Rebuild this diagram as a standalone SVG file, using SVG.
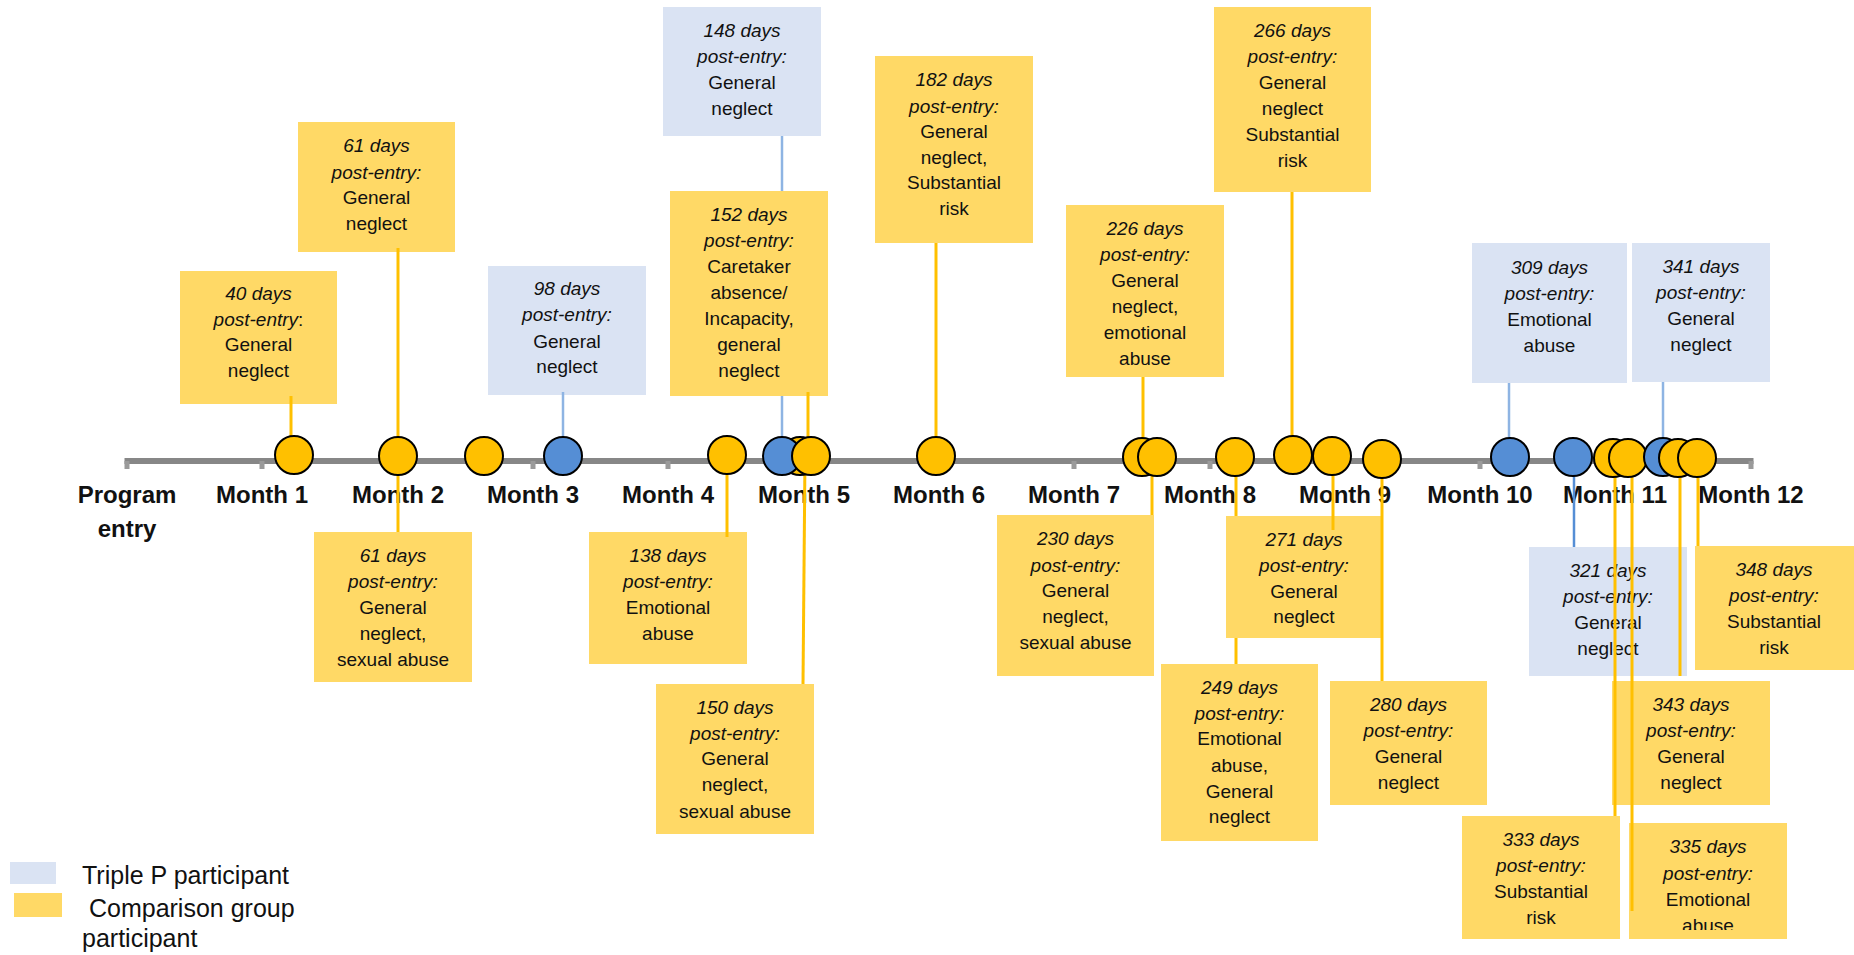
<svg xmlns="http://www.w3.org/2000/svg" width="1854" height="955" viewBox="0 0 1854 955">
<style>
.by{fill:#FFD966}
.bb{fill:#DAE3F3}
.t{font-family:"Liberation Sans",Arial,sans-serif;font-size:19px;text-anchor:middle;fill:#111}
.i{font-style:italic}
.n{font-style:normal}
.m{font-family:"Liberation Sans",Arial,sans-serif;font-weight:bold;font-size:24px;text-anchor:middle;fill:#111}
.lg{font-family:"Liberation Sans",Arial,sans-serif;font-size:25px;fill:#111}
.cy{fill:#FFC000;stroke:#000;stroke-width:2}
.cb{fill:#558ED5;stroke:#000;stroke-width:2}
.ly{stroke:#FFC000;stroke-width:3;fill:none}
.lb{stroke:#8EB4E3;stroke-width:2.5;fill:none}
.lbd{stroke:#558ED5;stroke-width:2.5;fill:none}
.tk{fill:#9a9a9a}
</style>
<defs>
<clipPath id="clip335"><rect x="1629" y="823" width="158" height="107"/></clipPath>
</defs>

<g id="axis">
<rect x="124.5" y="458" width="1629" height="6" fill="#878787"/>
<rect class="tk" x="124.5" y="461" width="5" height="8"/>
<rect class="tk" x="259.5" y="461" width="5" height="8"/>
<rect class="tk" x="395.5" y="461" width="5" height="8"/>
<rect class="tk" x="530.5" y="461" width="5" height="8"/>
<rect class="tk" x="665.5" y="461" width="5" height="8"/>
<rect class="tk" x="801.5" y="461" width="5" height="8"/>
<rect class="tk" x="936.5" y="461" width="5" height="8"/>
<rect class="tk" x="1071.5" y="461" width="5" height="8"/>
<rect class="tk" x="1207.5" y="461" width="5" height="8"/>
<rect class="tk" x="1342.5" y="461" width="5" height="8"/>
<rect class="tk" x="1477.5" y="461" width="5" height="8"/>
<rect class="tk" x="1612.5" y="461" width="5" height="8"/>
<rect class="tk" x="1748.5" y="461" width="5" height="8"/>
</g>

<g id="month-labels">
<text class="m" x="127" y="503">Program</text>
<text class="m" x="127" y="537">entry</text>
<text class="m" x="262" y="503">Month 1</text>
<text class="m" x="398" y="503">Month 2</text>
<text class="m" x="533" y="503">Month 3</text>
<text class="m" x="668" y="503">Month 4</text>
<text class="m" x="804" y="503">Month 5</text>
<text class="m" x="939" y="503">Month 6</text>
<text class="m" x="1074" y="503">Month 7</text>
<text class="m" x="1210" y="503">Month 8</text>
<text class="m" x="1345" y="503">Month 9</text>
<text class="m" x="1480" y="503">Month 10</text>
<text class="m" x="1615" y="503">Month 11</text>
<text class="m" x="1751" y="503">Month 12</text>
</g>

<g id="n40"><rect class="by" x="180" y="271" width="157" height="133"/>
<text class="t"><tspan class="i" x="258.5" y="300">40 days</tspan><tspan x="258.5" y="326"><tspan class="i">post-entry</tspan>:</tspan><tspan x="258.5" y="351">General</tspan><tspan x="258.5" y="377">neglect</tspan></text></g>

<g id="n61a"><rect class="by" x="298" y="122" width="157" height="130"/>
<text class="t"><tspan class="i" x="376.5" y="152">61 days</tspan><tspan class="i" x="376.5" y="179">post-entry:</tspan><tspan x="376.5" y="204">General</tspan><tspan x="376.5" y="230">neglect</tspan></text></g>

<g id="n61b"><rect class="by" x="314" y="532" width="158" height="150"/>
<text class="t"><tspan class="i" x="393" y="562">61 days</tspan><tspan class="i" x="393" y="588">post-entry:</tspan><tspan x="393" y="614">General</tspan><tspan x="393" y="640">neglect,</tspan><tspan x="393" y="666">sexual abuse</tspan></text></g>

<g id="n98"><rect class="bb" x="488" y="266" width="158" height="129"/>
<text class="t"><tspan class="i" x="567" y="295">98 days</tspan><tspan class="i" x="567" y="321">post-entry:</tspan><tspan x="567" y="348">General</tspan><tspan x="567" y="373">neglect</tspan></text></g>

<g id="n138"><rect class="by" x="589" y="532" width="158" height="132"/>
<text class="t"><tspan class="i" x="668" y="562">138 days</tspan><tspan class="i" x="668" y="588">post-entry:</tspan><tspan x="668" y="614">Emotional</tspan><tspan x="668" y="640">abuse</tspan></text></g>

<g id="n148"><rect class="bb" x="663" y="7" width="158" height="129"/>
<text class="t"><tspan class="i" x="742" y="37">148 days</tspan><tspan class="i" x="742" y="63">post-entry:</tspan><tspan x="742" y="89">General</tspan><tspan x="742" y="115">neglect</tspan></text></g>

<g id="n152"><rect class="by" x="670" y="191" width="158" height="205"/>
<text class="t"><tspan class="i" x="749" y="221">152 days</tspan><tspan class="i" x="749" y="247">post-entry:</tspan><tspan x="749" y="273">Caretaker</tspan><tspan x="749" y="299">absence/</tspan><tspan x="749" y="325">Incapacity,</tspan><tspan x="749" y="351">general</tspan><tspan x="749" y="377">neglect</tspan></text></g>

<g id="n150"><rect class="by" x="656" y="684" width="158" height="150"/>
<text class="t"><tspan class="i" x="735" y="714">150 days</tspan><tspan class="i" x="735" y="740">post-entry:</tspan><tspan x="735" y="765">General</tspan><tspan x="735" y="791">neglect,</tspan><tspan x="735" y="818">sexual abuse</tspan></text></g>

<g id="n182"><rect class="by" x="875" y="56" width="158" height="187"/>
<text class="t"><tspan class="i" x="954" y="86">182 days</tspan><tspan class="i" x="954" y="113">post-entry:</tspan><tspan x="954" y="138">General</tspan><tspan x="954" y="164">neglect,</tspan><tspan x="954" y="189">Substantial</tspan><tspan x="954" y="215">risk</tspan></text></g>

<g id="n226"><rect class="by" x="1066" y="205" width="158" height="172"/>
<text class="t"><tspan class="i" x="1145" y="235">226 days</tspan><tspan class="i" x="1145" y="261">post-entry:</tspan><tspan x="1145" y="287">General</tspan><tspan x="1145" y="313">neglect,</tspan><tspan x="1145" y="339">emotional</tspan><tspan x="1145" y="365">abuse</tspan></text></g>

<g id="n230"><rect class="by" x="997" y="515" width="157" height="161"/>
<text class="t"><tspan class="i" x="1075.5" y="545">230 days</tspan><tspan class="i" x="1075.5" y="572">post-entry:</tspan><tspan x="1075.5" y="597">General</tspan><tspan x="1075.5" y="623">neglect,</tspan><tspan x="1075.5" y="649">sexual abuse</tspan></text></g>

<g id="n266"><rect class="by" x="1214" y="7" width="157" height="185"/>
<text class="t"><tspan class="i" x="1292.5" y="37">266 days</tspan><tspan class="i" x="1292.5" y="63">post-entry:</tspan><tspan x="1292.5" y="89">General</tspan><tspan x="1292.5" y="115">neglect</tspan><tspan x="1292.5" y="141">Substantial</tspan><tspan x="1292.5" y="167">risk</tspan></text></g>

<g id="n249"><rect class="by" x="1161" y="664" width="157" height="177"/>
<text class="t"><tspan class="i" x="1239.5" y="694">249 days</tspan><tspan class="i" x="1239.5" y="720">post-entry:</tspan><tspan x="1239.5" y="745">Emotional</tspan><tspan x="1239.5" y="772">abuse,</tspan><tspan x="1239.5" y="798">General</tspan><tspan x="1239.5" y="823">neglect</tspan></text></g>

<g id="n271"><rect class="by" x="1226" y="516" width="156" height="122"/>
<text class="t"><tspan class="i" x="1304" y="546">271 days</tspan><tspan class="i" x="1304" y="572">post-entry:</tspan><tspan x="1304" y="598">General</tspan><tspan x="1304" y="623">neglect</tspan></text></g>

<g id="n280"><rect class="by" x="1330" y="681" width="157" height="124"/>
<text class="t"><tspan class="i" x="1408.5" y="711">280 days</tspan><tspan class="i" x="1408.5" y="737">post-entry:</tspan><tspan x="1408.5" y="763">General</tspan><tspan x="1408.5" y="789">neglect</tspan></text></g>

<g id="n309"><rect class="bb" x="1472" y="243" width="155" height="140"/>
<text class="t"><tspan class="i" x="1549.5" y="274">309 days</tspan><tspan class="i" x="1549.5" y="300">post-entry:</tspan><tspan x="1549.5" y="326">Emotional</tspan><tspan x="1549.5" y="352">abuse</tspan></text></g>

<g id="n341"><rect class="bb" x="1632" y="243" width="138" height="139"/>
<text class="t"><tspan class="i" x="1701" y="273">341 days</tspan><tspan class="i" x="1701" y="299">post-entry:</tspan><tspan x="1701" y="325">General</tspan><tspan x="1701" y="351">neglect</tspan></text></g>

<g id="n321"><rect class="bb" x="1529" y="547" width="158" height="129"/>
<text class="t"><tspan class="i" x="1608" y="577">321 days</tspan><tspan class="i" x="1608" y="603">post-entry:</tspan><tspan x="1608" y="629">General</tspan><tspan x="1608" y="655">neglect</tspan></text></g>

<g id="n348"><rect class="by" x="1695" y="546" width="159" height="124"/>
<text class="t"><tspan class="i" x="1774" y="576">348 days</tspan><tspan class="i" x="1774" y="602">post-entry:</tspan><tspan x="1774" y="628">Substantial</tspan><tspan x="1774" y="654">risk</tspan></text></g>

<g id="n343"><rect class="by" x="1612" y="681" width="158" height="124"/>
<text class="t"><tspan class="i" x="1691" y="711">343 days</tspan><tspan class="i" x="1691" y="737">post-entry:</tspan><tspan x="1691" y="763">General</tspan><tspan x="1691" y="789">neglect</tspan></text></g>

<g id="n333"><rect class="by" x="1462" y="816" width="158" height="123"/>
<text class="t"><tspan class="i" x="1541" y="846">333 days</tspan><tspan class="i" x="1541" y="872">post-entry:</tspan><tspan x="1541" y="898">Substantial</tspan><tspan x="1541" y="924">risk</tspan></text></g>

<g id="n335"><rect class="by" x="1629" y="823" width="158" height="116"/>
<text class="t" clip-path="url(#clip335)"><tspan class="i" x="1708" y="853">335 days</tspan><tspan class="i" x="1708" y="880">post-entry:</tspan><tspan x="1708" y="906">Emotional</tspan><tspan x="1708" y="932">abuse</tspan></text></g>

<g id="connectors">
<line class="ly" x1="291" y1="396" x2="291" y2="456"/>
<line class="ly" x1="398" y1="248" x2="398" y2="456"/>
<line class="ly" x1="398" y1="456" x2="398" y2="532"/>
<line class="lb" x1="563" y1="392" x2="563" y2="456"/>
<line class="ly" x1="727" y1="456" x2="727" y2="537"/>
<line class="lb" x1="782" y1="136" x2="782" y2="191"/>
<line class="lb" x1="782" y1="396" x2="782" y2="456"/>
<line class="ly" x1="808" y1="392" x2="808" y2="456"/>
<line class="ly" x1="805" y1="456" x2="803" y2="684"/>
<line class="ly" x1="936" y1="243" x2="936" y2="456"/>
<line class="ly" x1="1143" y1="377" x2="1143" y2="456"/>
<line class="ly" x1="1152" y1="456" x2="1152" y2="515"/>
<line class="ly" x1="1292" y1="192" x2="1292" y2="456"/>
<line class="ly" x1="1236" y1="456" x2="1236" y2="516"/>
<line class="ly" x1="1236" y1="638" x2="1236" y2="664"/>
<line class="ly" x1="1333" y1="456" x2="1333" y2="530"/>
<line class="ly" x1="1382" y1="456" x2="1382" y2="681"/>
<line class="lb" x1="1509" y1="383" x2="1509" y2="456"/>
<line class="lb" x1="1663" y1="382" x2="1663" y2="456"/>
<line class="lbd" x1="1574" y1="456" x2="1574" y2="547"/>
<line class="ly" x1="1615" y1="456" x2="1615" y2="816"/>
<line class="ly" x1="1632" y1="456" x2="1632" y2="911"/>
<line class="ly" x1="1680" y1="456" x2="1680" y2="676"/>
<line class="ly" x1="1698" y1="456" x2="1698" y2="546"/>
</g>

<g id="events">
<circle class="cy" cx="294" cy="455" r="19"/>
<circle class="cy" cx="398" cy="456" r="19"/>
<circle class="cy" cx="484" cy="456" r="19"/>
<circle class="cb" cx="563" cy="456" r="19"/>
<circle class="cy" cx="727" cy="455" r="19"/>
<circle class="cy" cx="800" cy="456" r="19"/>
<circle class="cb" cx="782" cy="456" r="19"/>
<circle class="cy" cx="811" cy="456" r="19"/>
<circle class="cy" cx="936" cy="456" r="19"/>
<circle class="cy" cx="1142" cy="457" r="19"/>
<circle class="cy" cx="1157" cy="457" r="19"/>
<circle class="cy" cx="1235" cy="457" r="19"/>
<circle class="cy" cx="1293" cy="455" r="19"/>
<circle class="cy" cx="1332" cy="456" r="19"/>
<circle class="cy" cx="1382" cy="459" r="19"/>
<circle class="cb" cx="1510" cy="457" r="19"/>
<circle class="cb" cx="1573" cy="457" r="19"/>
<circle class="cy" cx="1613" cy="458" r="19"/>
<circle class="cy" cx="1628" cy="458" r="19"/>
<circle class="cb" cx="1663" cy="457" r="19"/>
<circle class="cy" cx="1678" cy="458" r="19"/>
<circle class="cy" cx="1697" cy="458" r="19"/>
</g>

<g id="legend">
<rect x="10" y="862" width="46" height="22" fill="#DAE3F3"/>
<rect x="14" y="893" width="48" height="24" fill="#FFD966"/>
<text class="lg" x="82" y="884">Triple P participant</text>
<text class="lg" x="82" y="917" xml:space="preserve"> Comparison group</text>
<text class="lg" x="82" y="947">participant</text>
</g>
</svg>
